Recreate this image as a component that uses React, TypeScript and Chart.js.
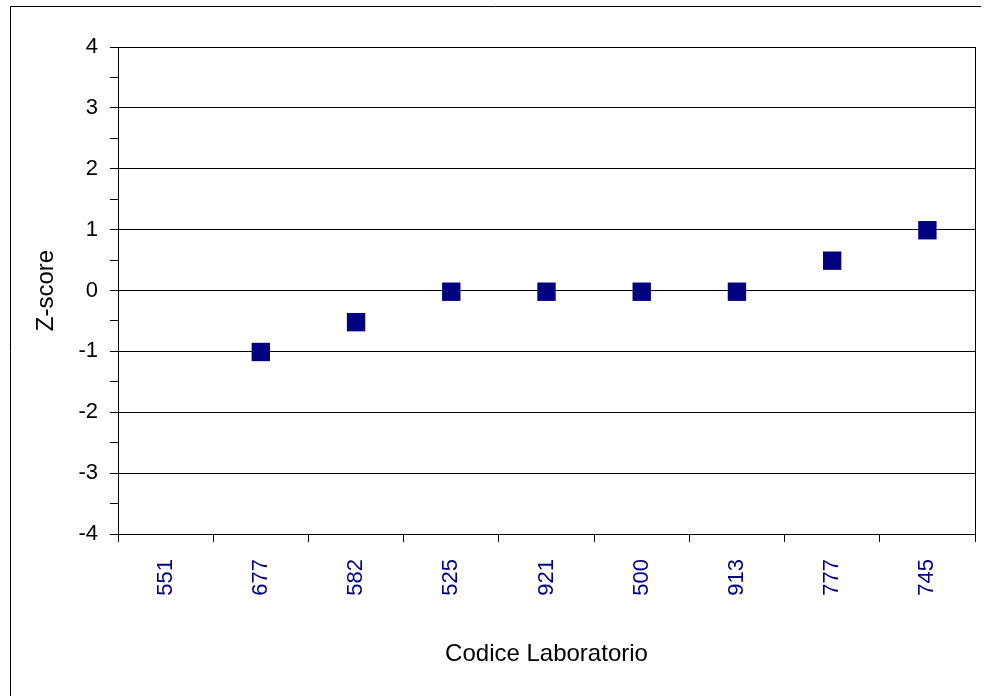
import React, { useEffect, useRef } from "react";
import { Chart, registerables } from "chart.js";

Chart.register(...registerables);

const categories = ["551", "677", "582", "525", "921", "500", "913", "777", "745"];
const zScores: (number | null)[] = [null, -1.01, -0.52, -0.02, -0.02, -0.02, -0.02, 0.49, 0.99];
const yMajorTicks = [-4, -3, -2, -1, 0, 1, 2, 3, 4];

const FONT = "'Liberation Sans', Arial, Helvetica, sans-serif";

const framePlugin = {
  id: "frame",
  afterDraw(chart: any) {
    const { ctx, chartArea } = chart;
    ctx.save();
    ctx.strokeStyle = "#000";
    ctx.lineWidth = 1;
    // right border of the plot area
    const xr = Math.round(chartArea.right) + 0.5;
    ctx.beginPath();
    ctx.moveTo(xr, Math.round(chartArea.top));
    ctx.lineTo(xr, Math.round(chartArea.bottom) + 1);
    ctx.stroke();
    // outer chart frame (top and left edges)
    ctx.beginPath();
    ctx.moveTo(10.5, 696);
    ctx.lineTo(10.5, 6.5);
    ctx.lineTo(981, 6.5);
    ctx.stroke();
    ctx.restore();
  },
};

export default function App() {
  const canvasRef = useRef<HTMLCanvasElement | null>(null);

  useEffect(() => {
    if (!canvasRef.current) return;
    const chart = new Chart(canvasRef.current, {
      type: "line",
      data: {
        labels: categories,
        datasets: [
          {
            label: "Z-score",
            data: zScores,
            showLine: false,
            pointStyle: "rect",
            pointRadius: 13,
            pointHoverRadius: 13,
            pointBackgroundColor: "#000080",
            pointBorderColor: "#000080",
            pointBorderWidth: 0,
          },
        ],
      },
      options: {
        animation: false,
        responsive: true,
        maintainAspectRatio: false,
        layout: { padding: { left: 0, right: 10, top: 47, bottom: 0 } },
        plugins: {
          legend: { display: false },
          tooltip: { enabled: false },
        },
        scales: {
          x: {
            type: "category",
            offset: true,
            grid: {
              offset: true,
              drawOnChartArea: false,
              drawTicks: true,
              tickLength: 8,
              color: "#000",
              tickColor: "#000",
            },
            border: { display: true, color: "#000", width: 1 },
            ticks: {
              autoSkip: false,
              minRotation: 90,
              maxRotation: 90,
              color: "#000080",
              font: { size: 22, family: FONT },
              padding: 17,
            },
            title: {
              display: true,
              text: "Codice Laboratorio",
              color: "#000",
              font: { size: 24, family: FONT },
              padding: { top: 0, bottom: 27 },
            },
            afterFit: (s: any) => {
              s.height = 162;
            },
          },
          y: {
            min: -4,
            max: 4,
            grid: {
              color: (ctx: any) =>
                yMajorTicks.includes(ctx.tick?.value) ? "#000" : "rgba(0,0,0,0)",
              tickColor: "#000",
              tickLength: 8,
              drawTicks: true,
            },
            border: { display: true, color: "#000", width: 1 },
            ticks: {
              stepSize: 0.5,
              autoSkip: false,
              color: "#000",
              font: { size: 22, family: FONT },
              padding: 12,
              callback: (v: any) => (yMajorTicks.includes(Number(v)) ? String(v) : ""),
            },
            title: {
              display: true,
              text: "Z-score",
              color: "#000",
              font: { size: 24, family: FONT },
              padding: { top: 32, bottom: 0 },
            },
            afterFit: (s: any) => {
              s.width = 118;
            },
          },
        },
      },
      plugins: [framePlugin],
    });
    return () => chart.destroy();
  }, []);

  return (
    <div
      style={{
        position: "fixed",
        left: 0,
        top: 0,
        width: 988,
        height: 696,
        background: "#fff",
      }}
    >
      <canvas ref={canvasRef} />
    </div>
  );
}
